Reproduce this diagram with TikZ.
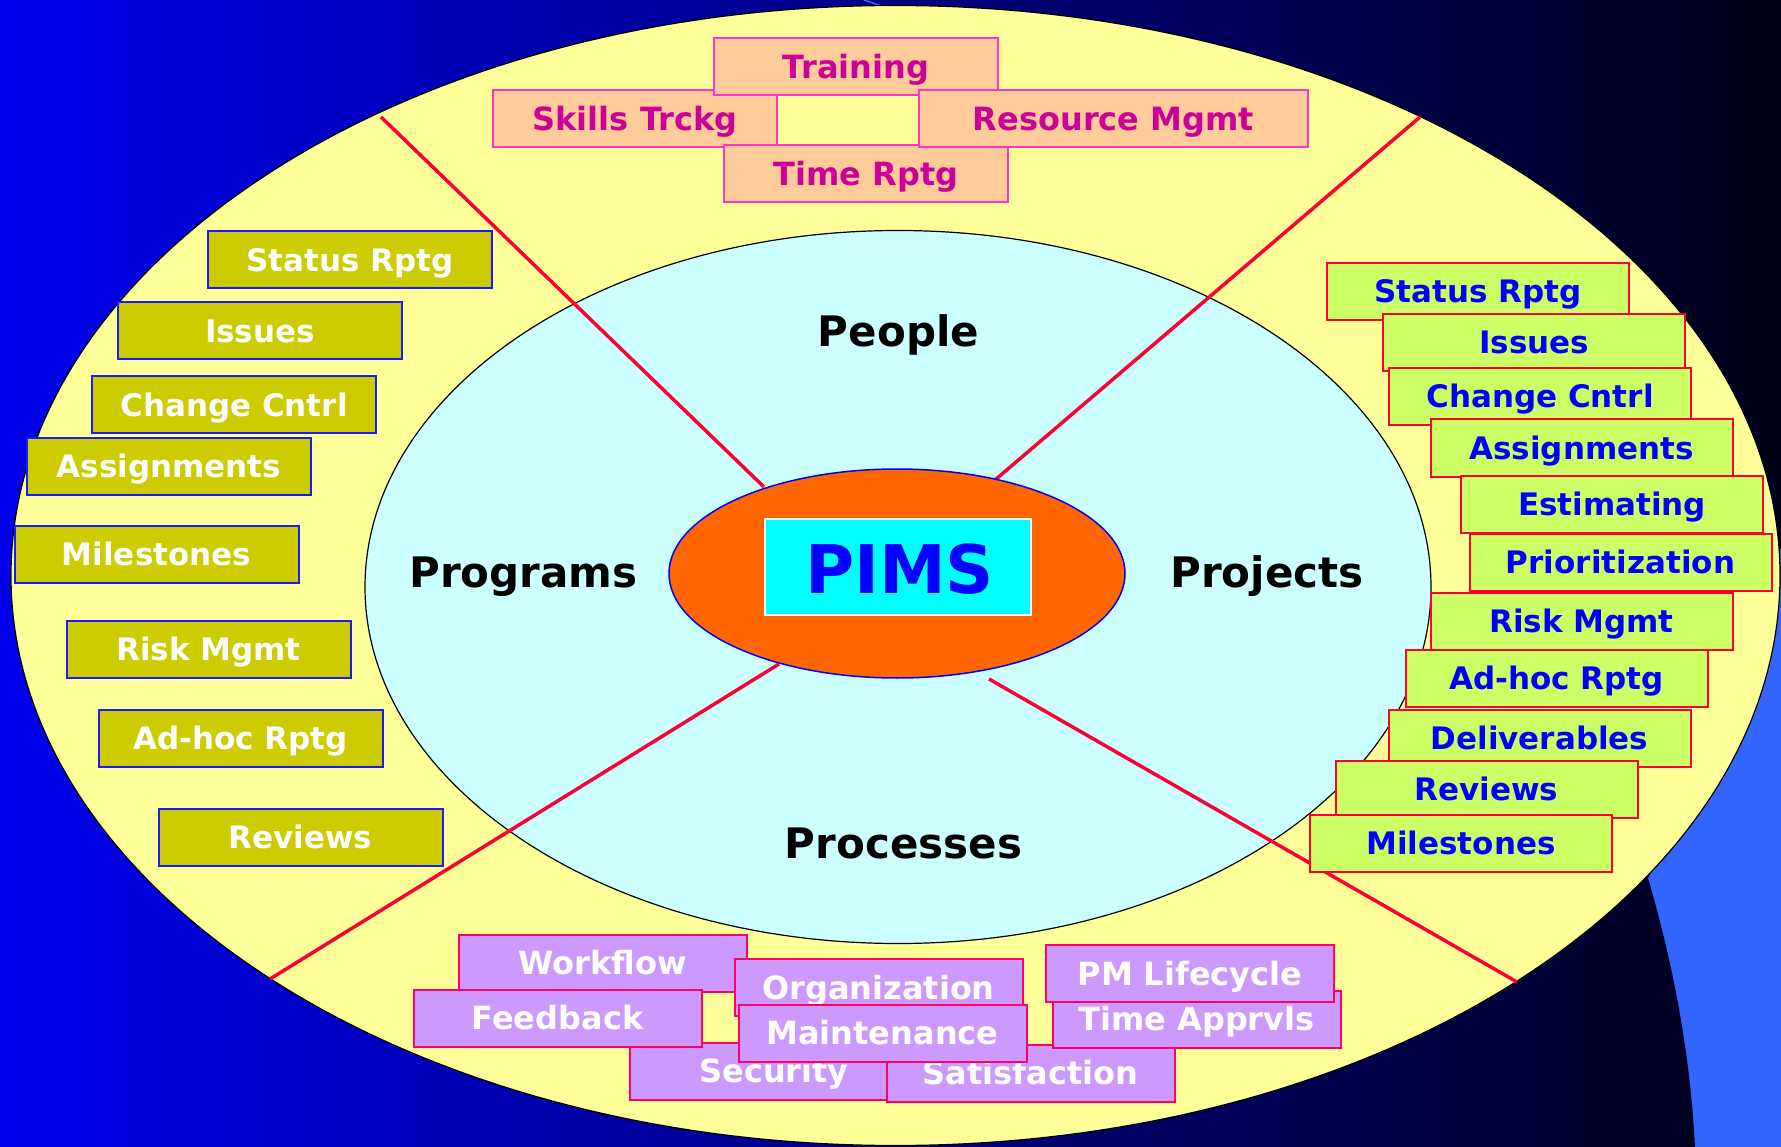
\documentclass[tikz,border=0pt]{standalone}
\usepackage{fontspec}
\setmainfont{DejaVu Sans}
\definecolor{cBgLight}{HTML}{3366FF}
\definecolor{cBgLeft}{HTML}{0000EE}
\definecolor{cBgMid}{HTML}{0000AA}
\definecolor{cBgRight}{HTML}{000018}
\definecolor{cYellow}{HTML}{FFFF99}
\definecolor{cCyan}{HTML}{CCFFFF}
\definecolor{cOrange}{HTML}{FF6600}
\definecolor{cSpoke}{HTML}{FF0033}
\definecolor{cPimsFill}{HTML}{00FFFF}
\definecolor{cBlueTxt}{HTML}{0000FF}
\definecolor{cOliveFill}{HTML}{CCCC00}
\definecolor{cOliveBd}{HTML}{1A1AFF}
\definecolor{cGreenFill}{HTML}{CCFF66}
\definecolor{cGreenBd}{HTML}{FF0033}
\definecolor{cPeachFill}{HTML}{FFCC99}
\definecolor{cPeachBd}{HTML}{FF33CC}
\definecolor{cPeachTxt}{HTML}{CC0099}
\definecolor{cLilacFill}{HTML}{CC99FF}
\definecolor{cLilacBd}{HTML}{FF0066}
\begin{document}
\begin{tikzpicture}[x=1pt,y=-1pt,
  pbox/.style={draw, rectangle, line width=2pt, inner sep=0pt, minimum height=57pt, text depth=0pt},
  lbox/.style={pbox, fill=cOliveFill, draw=cOliveBd, text=white, minimum width=284pt,
    font=\bfseries\fontsize{31}{31}\selectfont, text height=22.6pt},
  rbox/.style={pbox, fill=cGreenFill, draw=cGreenBd, text=cBlueTxt, minimum width=302pt,
    font=\bfseries\fontsize{31}{31}\selectfont, text height=22.6pt},
  tbox/.style={pbox, fill=cPeachFill, draw=cPeachBd, text=cPeachTxt, minimum width=284pt,
    font=\bfseries\fontsize{32}{32}\selectfont, text height=23.3pt},
  bbox/.style={pbox, fill=cLilacFill, draw=cLilacBd, text=white, minimum width=288pt,
    font=\bfseries\fontsize{32}{32}\selectfont, text height=23.3pt},
  region/.style={font=\bfseries\fontsize{42}{42}\selectfont, anchor=base, text=black, inner sep=0pt},
  spoke/.style={draw=cSpoke, line width=3.5pt}
]
\useasboundingbox (0,0) rectangle (1781,1147);
% background
\fill[cBgLight] (0,0) rectangle (1781,1147);
\shade[left color=cBgLeft, middle color=cBgMid, right color=cBgRight]
  (0,0) -- (1781,0) -- (1781,548) -- (1760,600) -- (1700,780) -- (1648,878)
  .. controls (1672,960) and (1690,1050) .. (1695,1147) -- (0,1147) -- cycle;
\draw[cBgLight, line width=1.5pt] (864,0) -- (881,6);
% ellipses
\draw[fill=cYellow, line width=1.2pt] (895.5,575.5) ellipse [x radius=884.5pt, y radius=570pt];
\draw[fill=cCyan, line width=1.2pt] (898,587) ellipse [x radius=533pt, y radius=356.5pt];
% spokes
\coordinate (ulA) at (381,117);  \coordinate (ulB) at (764,487);
\coordinate (urA) at (1420,117); \coordinate (urB) at (995,480);
\coordinate (llA) at (270,979);  \coordinate (llB) at (779,664);
\coordinate (lrA) at (1517,982); \coordinate (lrB) at (989,679);
\draw[spoke] (ulA) -- (ulB);
\draw[spoke] (urA) -- (urB);
\draw[spoke] (llA) -- (llB);
\draw[spoke] (lrA) -- (lrB);
% hub
\draw[fill=cOrange, draw=cBlueTxt, line width=1.5pt] (897,573.5) ellipse [x radius=228pt, y radius=104.5pt];
\node[draw=white, fill=cPimsFill, line width=1.5pt, minimum width=266pt, minimum height=96pt, inner sep=0pt] (pimsbox) at (898,567) {};
\node[font=\bfseries\fontsize{67}{67}\selectfont, text=cBlueTxt, anchor=base, inner sep=0pt] (pims) at (899.5,593) {PIMS};
% region labels
\node[region] (people) at (898.5,346.5) {People};
\node[region] (programs) at (523.5,587) {Programs};
\node[region] (projects) at (1267,587) {Projects};
\node[region] (processes) at (903.5,858.5) {Processes};
% left column
\node[lbox] (l1) at (350,260) {Status Rptg};
\node[lbox] (l2) at (260,331) {Issues};
\node[lbox] (l3) at (234,405) {Change Cntrl};
\node[lbox] (l4) at (169,466.5) {Assignments};
\node[lbox] (l5) at (156.5,554.5) {Milestones};
\node[lbox] (l6) at (208.5,649.5) {Risk Mgmt};
\node[lbox] (l7) at (240.5,738) {Ad-hoc Rptg};
\node[lbox] (l8) at (300.5,837) {Reviews};
% right column
\node[rbox] (r1) at (1478,291.5) {Status Rptg};
\node[rbox] (r2) at (1534,342.5) {Issues};
\node[rbox] (r3) at (1540,396.5) {Change Cntrl};
\node[rbox] (r4) at (1581.5,448) {Assignments};
\node[rbox] (r5) at (1612,504.5) {Estimating};
\node[rbox] (r6) at (1620.5,562) {Prioritization};
\node[rbox] (r7) at (1581.5,621) {Risk Mgmt};
\node[rbox] (r8) at (1556.5,678) {Ad-hoc Rptg};
\node[rbox] (r9) at (1539.5,738) {Deliverables};
\node[rbox] (r10) at (1486.5,789) {Reviews};
\node[rbox] (r11) at (1461,843) {Milestones};
% top group
\node[tbox] (t2) at (635,119) {Skills Trckg};
\node[tbox] (t1) at (856,67) {Training};
\node[tbox] (t4) at (866,174) {Time Rptg};
\node[tbox, minimum width=389pt] (t3) at (1113.5,119) {Resource Mgmt};
% bottom group
\node[bbox] (b1) at (603,963) {Workflow};
\node[bbox] (b5) at (774,1071) {Security};
\node[bbox] (b2) at (557.5,1018) {Feedback};
\node[bbox] (b3) at (878.5,987.5) {Organization};
\node[bbox] (b6) at (1030.5,1073) {Satisfaction};
\node[bbox] (b4) at (882.5,1033) {Maintenance};
\node[bbox] (b8) at (1196.5,1019) {Time Apprvls};
\node[bbox] (b7) at (1190,973.5) {PM Lifecycle};
\end{tikzpicture}
\end{document}
